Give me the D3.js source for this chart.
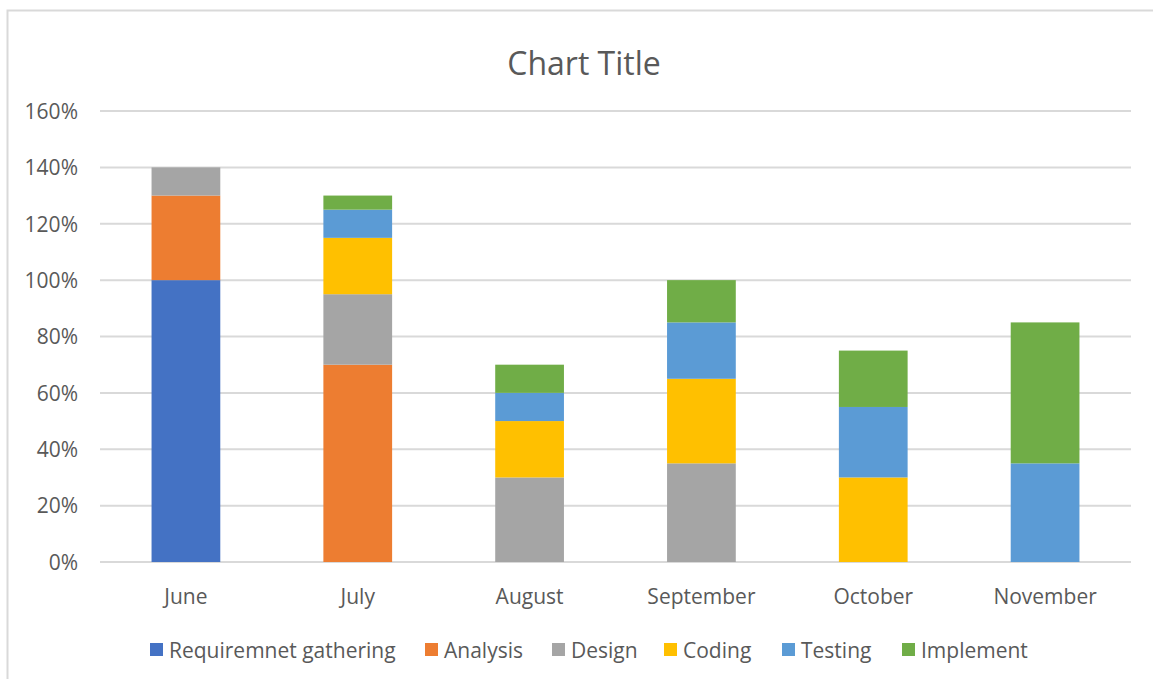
<!DOCTYPE html>
<html>
<head>
<meta charset="utf-8">
<script src="https://cdn.jsdelivr.net/npm/d3@7"></script>
<style>
  body { margin: 0; background: #fff; }
  text { font-family: "Open Sans", "Noto Sans", sans-serif; fill: #595959; }
</style>
</head>
<body>
<div id="chart"></div>
<script>
// data (percent)
var months = ["June", "July", "August", "September", "October", "November"];
var phases = ["Requiremnet gathering", "Analysis", "Design", "Coding", "Testing", "Implement"];
var colors = ["#4472c4", "#ed7d31", "#a5a5a5", "#ffc000", "#5b9bd5", "#70ad47"];
var requirement = [100, 0, 0, 0, 0, 0];
var analysis    = [30, 70, 0, 0, 0, 0];
var design      = [10, 25, 30, 35, 0, 0];
var coding      = [0, 20, 20, 30, 30, 0];
var testing     = [0, 10, 10, 20, 25, 35];
var implement   = [0, 5, 10, 15, 20, 50];
var yTicks = [0, 20, 40, 60, 80, 100, 120, 140, 160];

var seriesValues = [requirement, analysis, design, coding, testing, implement];
var rows = months.map(function(m, i) {
    var r = { month: m };
    phases.forEach(function(p, j) { r[p] = seriesValues[j][i]; });
    return r;
});

var W = 1153, H = 679;
var margin = { top: 111, right: 22, bottom: 117, left: 100 };
var width = W - margin.left - margin.right;
var height = H - margin.top - margin.bottom;

var svg = d3.select("#chart").append("svg")
    .attr("width", W)
    .attr("height", H);

// chart border
svg.append("rect")
    .attr("x", 7.5).attr("y", 10.5)
    .attr("width", W).attr("height", H)
    .attr("fill", "none")
    .attr("stroke", "#d9d9d9")
    .attr("stroke-width", 2);

svg.append("text")
    .attr("x", 584).attr("y", 75)
    .attr("text-anchor", "middle")
    .style("font-size", "32px")
    .text("Chart Title");

var g = svg.append("g")
    .attr("transform", "translate(" + margin.left + "," + margin.top + ")");

var x = d3.scaleBand()
    .domain(months)
    .range([0, width])
    .paddingInner(0.6)
    .paddingOuter(0.3);

var y = d3.scaleLinear()
    .domain([0, 160])
    .range([height, 0]);

// gridlines
g.selectAll(".grid")
    .data(yTicks)
    .enter().append("line")
        .attr("x1", 0).attr("x2", width)
        .attr("y1", function(d) { return y(d); })
        .attr("y2", function(d) { return y(d); })
        .attr("stroke", "#d9d9d9")
        .attr("stroke-width", 2);

var yAxis = g.append("g")
    .call(d3.axisLeft(y).tickValues(yTicks).tickFormat(function(d) { return d + "%"; }).tickSize(0).tickPadding(22));
yAxis.select(".domain").remove();
yAxis.selectAll("text").style("font-size", "21px").attr("fill", "#595959").attr("dy", "0.35em");

var stack = d3.stack().keys(phases);
var layers = stack(rows);

g.selectAll(".layer")
    .data(layers)
    .enter().append("g")
        .attr("fill", function(d, i) { return colors[i]; })
    .selectAll("rect")
    .data(function(d) { return d; })
    .enter().append("rect")
        .attr("x", function(d) { return x(d.data.month); })
        .attr("y", function(d) { return y(d[1]); })
        .attr("width", x.bandwidth())
        .attr("height", function(d) { return y(d[0]) - y(d[1]); });

var xAxis = g.append("g")
    .attr("transform", "translate(0," + height + ")")
    .call(d3.axisBottom(x).tickSize(0).tickPadding(27));
xAxis.select(".domain").remove();
xAxis.selectAll("text").style("font-size", "21px").attr("fill", "#595959");

// legend
var legendX = [150, 425, 552, 664, 782, 902];
var legend = svg.selectAll(".legend")
    .data(phases)
    .enter().append("g")
        .attr("transform", function(d, i) { return "translate(" + legendX[i] + ",643)"; });
legend.append("rect")
    .attr("width", 13).attr("height", 13)
    .attr("fill", function(d, i) { return colors[i]; });
legend.append("text")
    .attr("x", 19).attr("y", 15)
    .style("font-size", "21px")
    .text(function(d) { return d; });
</script>
</body>
</html>
